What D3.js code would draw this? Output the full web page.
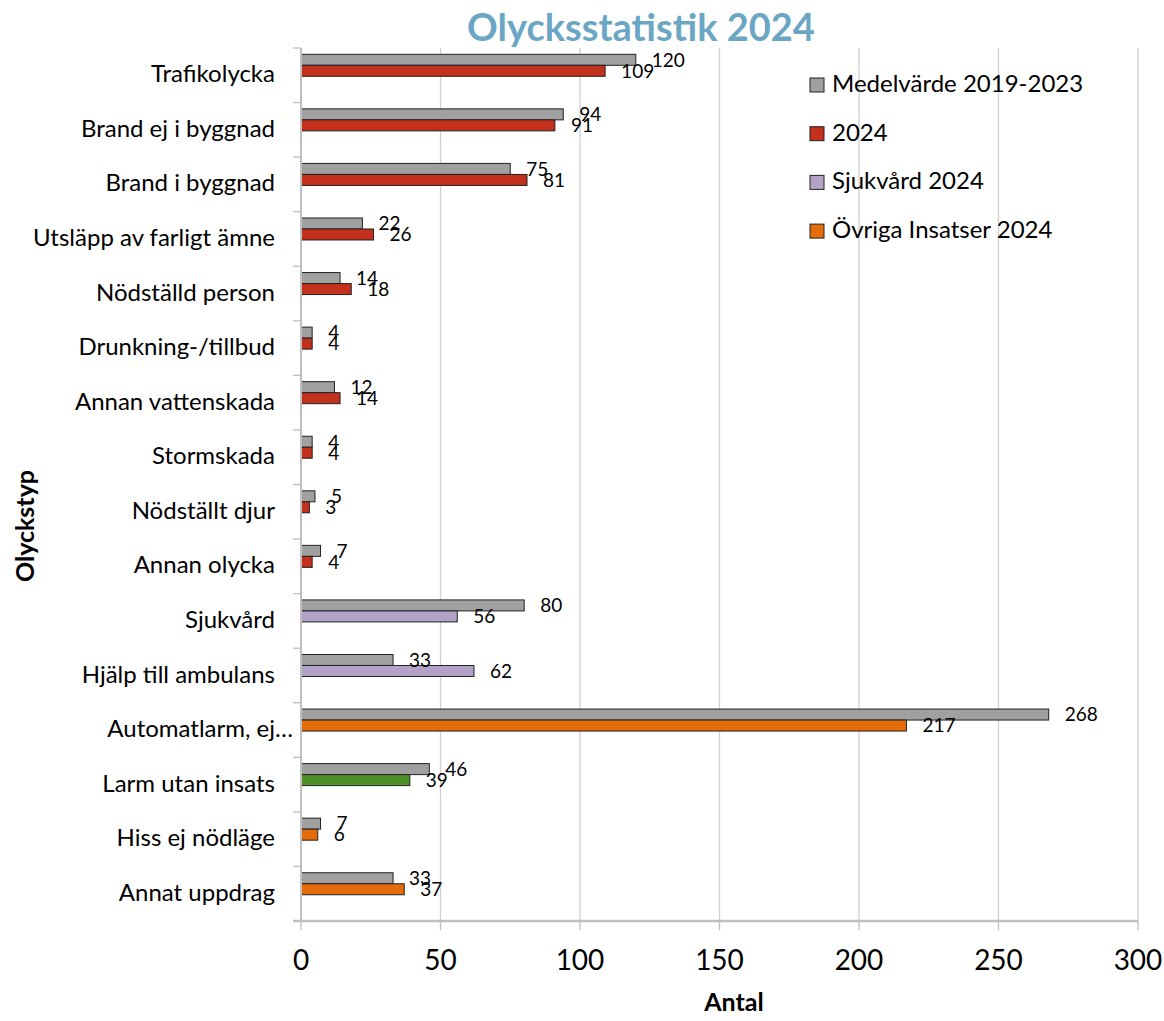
<!DOCTYPE html>
<html><head><meta charset="utf-8">
<script src="https://cdn.jsdelivr.net/npm/d3@7"></script>
<style>body{margin:0;background:#fff}svg{display:block}text{font-family:Lato,"Open Sans",sans-serif}</style>
</head><body><svg id="c" width="1164" height="1021"></svg>
<script>
const categories = ["Trafikolycka","Brand ej i byggnad","Brand i byggnad","Utsläpp av farligt ämne","Nödställd person","Drunkning-/tillbud","Annan vattenskada","Stormskada","Nödställt djur","Annan olycka","Sjukvård","Hjälp till ambulans","Automatlarm, ej…","Larm utan insats","Hiss ej nödläge","Annat uppdrag"];
const medelvarde = [120,94,75,22,14,4,12,4,5,7,80,33,268,46,7,33];
const values2024 = [109,91,81,26,18,4,14,4,3,4,null,null,null,null,null,null];
const sjukvard2024 = [null,null,null,null,null,null,null,null,null,null,56,62,null,null,null,null];
const ovriga2024 = [null,null,null,null,null,null,null,null,null,null,null,null,217,39,6,37];
const seriesNames = ["Medelvärde 2019-2023","2024","Sjukvård 2024","Övriga Insatser 2024"];
const seriesColors = ["#a0a0a0","#c3301b","#b3a2c8","#e46c0a"];
const pointOverrides = [{category:"Larm utan insats", color:"#4e8f28"}];
const xTicks = [0,50,100,150,200,250,300];

const svg = d3.select("#c");
const L=301, R=1138, T=48, B=921;
const x = d3.scaleLinear().domain([0,300]).range([L,R]);
const y = d3.scaleBand().domain(categories).range([T,B]).padding(0);
const sub = d3.scaleBand().domain(["avg","cur"]).range([6.3,28.3]);

svg.append("g").selectAll("line").data(xTicks.slice(1)).join("line")
  .attr("x1",d=>x(d)).attr("x2",d=>x(d)).attr("y1",T).attr("y2",B)
  .attr("stroke","#d0d0d0").attr("stroke-width",1.3);

const cur = categories.map((c,i)=>{
  let v=null, s=null;
  if(values2024[i]!=null){v=values2024[i];s=1;}
  else if(sjukvard2024[i]!=null){v=sjukvard2024[i];s=2;}
  else if(ovriga2024[i]!=null){v=ovriga2024[i];s=3;}
  const ov = pointOverrides.find(o=>o.category===c);
  return {c, v, color: ov?ov.color:seriesColors[s]};
});
const avg = categories.map((c,i)=>({c, v:medelvarde[i]}));

svg.append("g").selectAll("rect").data(avg).join("rect")
  .attr("x",x(0)).attr("y",d=>y(d.c)+sub("avg")).attr("width",d=>x(d.v)-x(0)).attr("height",sub.bandwidth())
  .attr("fill",seriesColors[0]).attr("stroke","#222").attr("stroke-width",1);
svg.append("g").selectAll("rect").data(cur).join("rect")
  .attr("x",x(0)).attr("y",d=>y(d.c)+sub("cur")).attr("width",d=>x(d.v)-x(0)).attr("height",sub.bandwidth())
  .attr("fill",d=>d.color).attr("stroke","#222").attr("stroke-width",1);

const lbl = (data,key)=>svg.append("g").selectAll("text").data(data).join("text")
  .attr("x",d=>x(d.v)+16).attr("y",d=>y(d.c)+sub(key)+sub.bandwidth()/2+2)
  .attr("dominant-baseline","middle").attr("font-size",19).attr("fill","#000").text(d=>d.v);
lbl(avg,"avg"); lbl(cur,"cur");

svg.append("line").attr("x1",L).attr("x2",L).attr("y1",T).attr("y2",B).attr("stroke","#bfbfbf").attr("stroke-width",2);
svg.append("g").selectAll("line").data(categories).join("line")
  .attr("x1",L-8).attr("x2",L).attr("y1",d=>y(d)).attr("y2",d=>y(d)).attr("stroke","#bfbfbf").attr("stroke-width",1.3);
svg.append("line").attr("x1",L-8).attr("x2",R).attr("y1",B).attr("y2",B).attr("stroke","#bfbfbf").attr("stroke-width",2.5);
svg.append("g").selectAll("line").data(xTicks).join("line")
  .attr("x1",d=>x(d)).attr("x2",d=>x(d)).attr("y1",B).attr("y2",B+9).attr("stroke","#bfbfbf").attr("stroke-width",1.3);
svg.append("g").selectAll("text").data(xTicks).join("text")
  .attr("x",d=>x(d)).attr("y",963).attr("text-anchor","middle").attr("dominant-baseline","middle")
  .attr("font-size",28).attr("fill","#000").text(d=>d);

svg.append("g").selectAll("text").data(categories).join("text")
  .attr("x",d=>d.endsWith("…")?293:275).attr("y",d=>y(d)+y.bandwidth()/2+1).attr("text-anchor","end").attr("dominant-baseline","middle")
  .attr("font-size",24).attr("fill","#000").text(d=>d);

svg.append("text").attr("x",641).attr("y",31).attr("text-anchor","middle").attr("dominant-baseline","middle")
  .attr("font-size",38).attr("font-weight","bold").attr("fill","#6ba6c5").text("Olycksstatistik 2024");
svg.append("text").attr("transform","translate(28,526) rotate(-90)").attr("text-anchor","middle").attr("dominant-baseline","middle")
  .attr("font-size",25).attr("font-weight","bold").attr("fill","#000").text("Olyckstyp");
svg.append("text").attr("x",734).attr("y",1005).attr("text-anchor","middle").attr("dominant-baseline","middle")
  .attr("font-size",25).attr("font-weight","bold").attr("fill","#000").text("Antal");

const lg = svg.append("g").selectAll("g").data(seriesNames).join("g")
  .attr("transform",(d,i)=>`translate(810,${85+i*48.7})`);
lg.append("rect").attr("x",0).attr("y",-7).attr("width",14).attr("height",14)
  .attr("fill",(d,i)=>seriesColors[i]).attr("stroke","#222").attr("stroke-width",1);
lg.append("text").attr("x",22).attr("y",1).attr("dominant-baseline","middle").attr("font-size",24).attr("fill","#000").text(d=>d);
</script></body></html>
